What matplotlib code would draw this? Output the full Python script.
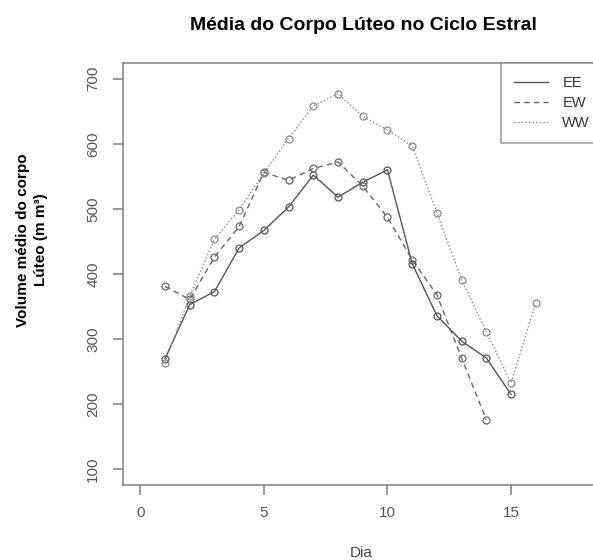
import matplotlib
matplotlib.use("Agg")
import matplotlib.pyplot as plt
from matplotlib.lines import Line2D

plt.rcParams['font.family'] = ['Liberation Sans', 'DejaVu Sans']

# days and mean corpus luteum volume per group
days_ee = list(range(1, 16))
ee = [270, 353, 373, 440, 467, 503, 552, 518, 541, 560, 416, 336, 297, 271, 215]

days_ew = list(range(1, 15))
ew = [381, 361, 426, 473, 556, 544, 562, 572, 535, 487, 422, 368, 271, 176]

days_ww = list(range(1, 17))
ww = [264, 366, 453, 499, 555, 608, 658, 677, 642, 621, 597, 494, 391, 311, 233, 356]

x_ticks = [0, 5, 10, 15]
y_ticks = [100, 200, 300, 400, 500, 600, 700]

W, H = 593, 560
fig = plt.figure(figsize=(W / 100, H / 100), dpi=100)
left, right, top, bottom = 122.5, 603, 63, 485
ax = fig.add_axes([left / W, (H - bottom) / H, (right - left) / W, (bottom - top) / H])

grey = '#7f7f7f'
styles = {
    'EE': dict(color='#555555', linestyle='-'),
    'EW': dict(color='#666666', linestyle=(0, (4, 3))),
    'WW': dict(color='#8a8a8a', linestyle=(0, (1, 1.6))),
}
for name, xs, ys in [('EE', days_ee, ee), ('EW', days_ew, ew), ('WW', days_ww, ww)]:
    ax.plot(xs, ys, lw=1.0, marker='o', markersize=5, markerfacecolor='none',
            markeredgewidth=0.9, **styles[name])

ax.set_xlim(-0.72, 18.72)
ax.set_ylim(76, 724)
ax.set_xticks(x_ticks)
ax.set_yticks(y_ticks)
for s in ax.spines.values():
    s.set_color(grey)
    s.set_linewidth(1.1)
ax.tick_params(axis='both', length=7, width=1.1, color=grey, labelcolor='#555555', labelsize=11)
ax.tick_params(axis='x', pad=8)
ax.tick_params(axis='y', pad=9)
for lab in ax.get_yticklabels():
    lab.set_rotation(90)
    lab.set_va('center')

# legend shows only the line types, like R's legend(lty=...)
handles = [Line2D([], [], lw=1.0, **styles[n]) for n in styles]
leg = ax.legend(handles, list(styles), loc='upper right', bbox_to_anchor=(1, 1),
                borderaxespad=0, fontsize=10.5, handlelength=2.3, handletextpad=1.0,
                borderpad=0.9, labelspacing=0.4, fancybox=False, frameon=True)
leg.get_frame().set_edgecolor(grey)
leg.get_frame().set_linewidth(1.1)
for t in leg.get_texts():
    t.set_color('#333333')

fig.text(363 / W, 1 - 25 / H, 'Média do Corpo Lúteo no Ciclo Estral',
         ha='center', va='center', fontsize=14, fontweight='bold')
fig.text(32 / W, 1 - 240 / H, 'Volume médio do corpo\nLúteo (m m³)',
         ha='center', va='center', rotation=90, fontsize=11, fontweight='bold',
         linespacing=1.45, multialignment='center')
fig.text(361 / W, 1 - 553 / H, 'Dia', ha='center', va='center', fontsize=11, color='#444444')

fig.savefig('out.png', dpi=100)
